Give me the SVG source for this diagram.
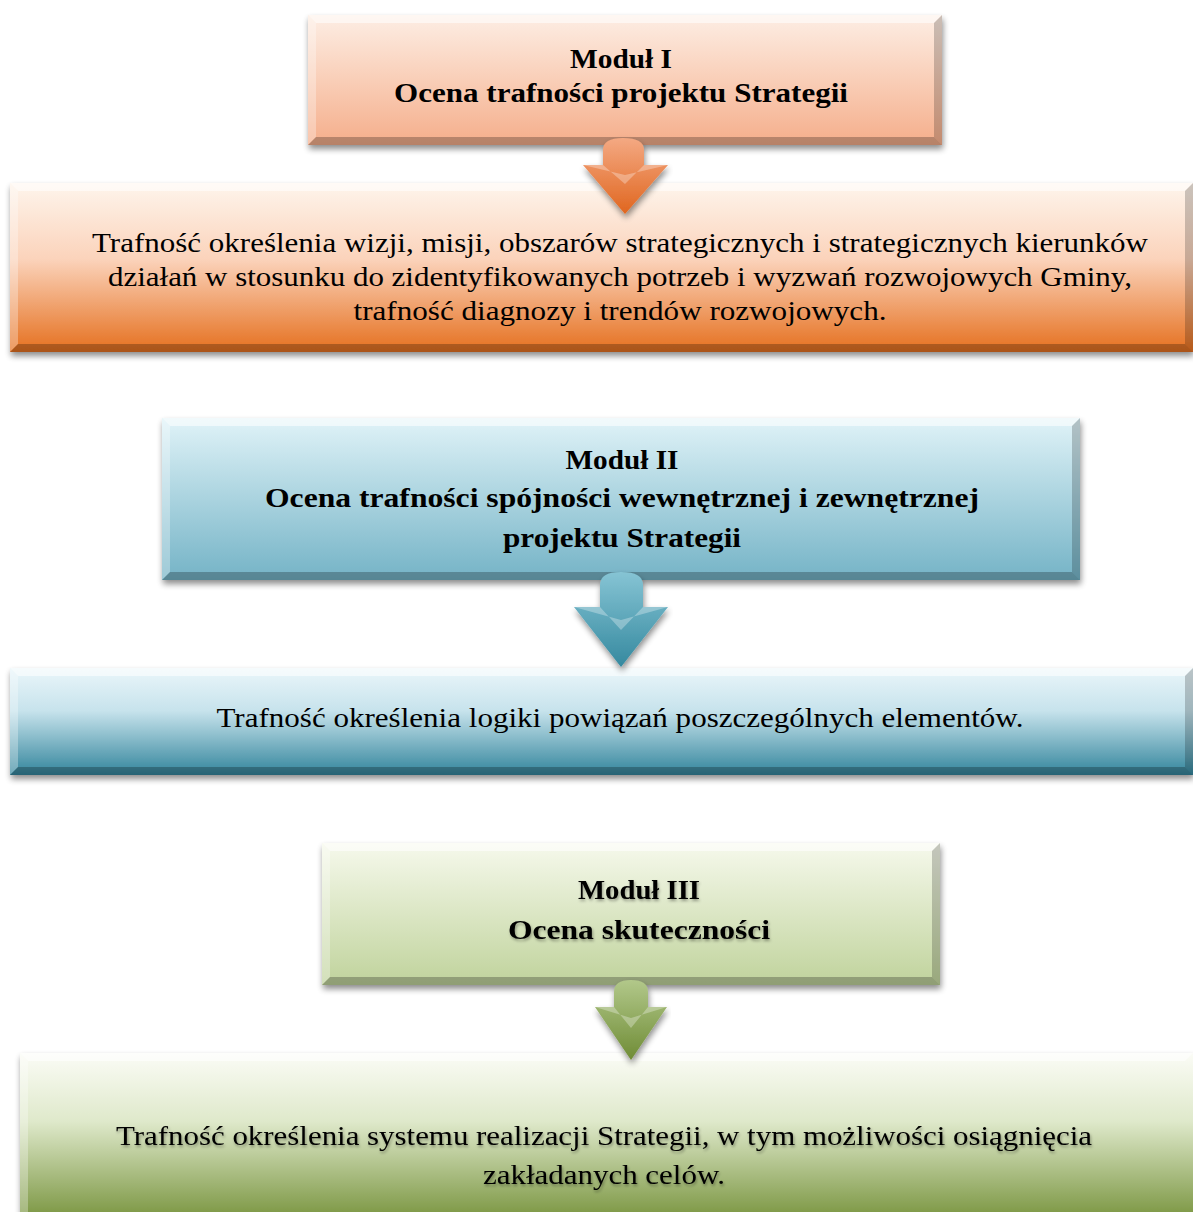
<svg xmlns="http://www.w3.org/2000/svg" width="1193" height="1212" viewBox="0 0 1193 1212">
<style>
.t{font-family:"Liberation Serif","DejaVu Serif",serif;font-size:28px;fill:#000;text-anchor:middle}
.b{font-weight:bold}
.bevT{fill:#fff;opacity:0.55}
.bevL{fill:#fff;opacity:0.3}
.bevR{fill:#000;opacity:0.2}
.bevB{fill:#000;opacity:0.25}
</style>
<defs>
<filter id="sh" x="-5%" y="-10%" width="110%" height="130%">
<feGaussianBlur in="SourceAlpha" stdDeviation="3"/>
<feOffset dx="1" dy="4" result="o"/>
<feComponentTransfer><feFuncA type="linear" slope="0.45"/></feComponentTransfer>
<feMerge><feMergeNode/><feMergeNode in="SourceGraphic"/></feMerge>
</filter>
<filter id="tsh" x="-5%" y="-20%" width="110%" height="150%">
<feGaussianBlur in="SourceAlpha" stdDeviation="1.5"/>
<feOffset dx="1" dy="2"/>
<feComponentTransfer><feFuncA type="linear" slope="0.35"/></feComponentTransfer>
<feMerge><feMergeNode/><feMergeNode in="SourceGraphic"/></feMerge>
</filter>
<linearGradient id="g1" x1="0" y1="0" x2="0" y2="1"><stop offset="0" stop-color="#fdeee4"/><stop offset="1" stop-color="#f5ae8b"/></linearGradient>
<linearGradient id="g2" x1="0" y1="0" x2="0" y2="1"><stop offset="0" stop-color="#fef5ec"/><stop offset="0.45" stop-color="#fbd3bb"/><stop offset="1" stop-color="#e5701f"/></linearGradient>
<linearGradient id="g3" x1="0" y1="0" x2="0" y2="1"><stop offset="0" stop-color="#e0f3f8"/><stop offset="1" stop-color="#74b3c6"/></linearGradient>
<linearGradient id="g4" x1="0" y1="0" x2="0" y2="1"><stop offset="0" stop-color="#eaf6fa"/><stop offset="0.4" stop-color="#c7e3ec"/><stop offset="1" stop-color="#33859c"/></linearGradient>
<linearGradient id="g5" x1="0" y1="0" x2="0" y2="1"><stop offset="0" stop-color="#f6f9ec"/><stop offset="1" stop-color="#c0d39c"/></linearGradient>
<linearGradient id="g6" x1="0" y1="0" x2="0" y2="1"><stop offset="0" stop-color="#fbfcf6"/><stop offset="0.4" stop-color="#dfe9cb"/><stop offset="1" stop-color="#76923b"/></linearGradient>
<linearGradient id="a1" x1="0" y1="0" x2="0" y2="1"><stop offset="0" stop-color="#f4a983"/><stop offset="1" stop-color="#e0661f"/></linearGradient>
<linearGradient id="a2" x1="0" y1="0" x2="0" y2="1"><stop offset="0" stop-color="#86c4d4"/><stop offset="1" stop-color="#35899f"/></linearGradient>
<linearGradient id="a3" x1="0" y1="0" x2="0" y2="1"><stop offset="0" stop-color="#b2c88a"/><stop offset="1" stop-color="#6f8c36"/></linearGradient>
</defs>
<rect width="1193" height="1212" fill="#fff"/>

<g id="node1">
<g filter="url(#sh)"><rect x="308" y="15" width="634" height="130" fill="url(#g1)"/></g>
<polygon class="bevT" points="308,15 942,15 934,23 316,23"/>
<polygon class="bevL" points="308,15 316,23 316,137 308,145"/>
<polygon class="bevR" points="942,15 942,145 934,137 934,23"/>
<polygon class="bevB" points="308,145 316,137 934,137 942,145"/>
<text class="t b" x="621" y="68" textLength="102" lengthAdjust="spacingAndGlyphs">Moduł I</text>
<text class="t b" x="621" y="102" textLength="454" lengthAdjust="spacingAndGlyphs">Ocena trafności projektu Strategii</text>
</g>

<g id="node2">
<g filter="url(#sh)"><rect x="10" y="183" width="1183" height="169" fill="url(#g2)"/></g>
<polygon class="bevT" points="10,183 1193,183 1185,191 18,191"/>
<polygon class="bevL" points="10,183 18,191 18,344 10,352"/>
<polygon class="bevR" points="1193,183 1193,352 1185,344 1185,191"/>
<polygon class="bevB" points="10,352 18,344 1185,344 1193,352"/>
<text class="t" x="620" y="252" textLength="1056" lengthAdjust="spacingAndGlyphs">Trafność określenia wizji, misji, obszarów strategicznych i strategicznych kierunków</text>
<text class="t" x="620" y="286" textLength="1024" lengthAdjust="spacingAndGlyphs">działań w stosunku do zidentyfikowanych potrzeb i wyzwań rozwojowych Gminy,</text>
<text class="t" x="620" y="320" textLength="533" lengthAdjust="spacingAndGlyphs">trafność diagnozy i trendów rozwojowych.</text>
</g>

<g id="node3">
<g filter="url(#sh)"><rect x="162" y="418" width="918" height="162" fill="url(#g3)"/></g>
<polygon class="bevT" points="162,418 1080,418 1072,426 170,426"/>
<polygon class="bevL" points="162,418 170,426 170,572 162,580"/>
<polygon class="bevR" points="1080,418 1080,580 1072,572 1072,426"/>
<polygon class="bevB" points="162,580 170,572 1072,572 1080,580"/>
<text class="t b" x="622" y="469" textLength="113" lengthAdjust="spacingAndGlyphs">Moduł II</text>
<text class="t b" x="622" y="507" textLength="714" lengthAdjust="spacingAndGlyphs">Ocena trafności spójności wewnętrznej i zewnętrznej</text>
<text class="t b" x="622" y="547" textLength="238" lengthAdjust="spacingAndGlyphs">projektu Strategii</text>
</g>

<g id="node4">
<g filter="url(#sh)"><rect x="10" y="668" width="1183" height="107" fill="url(#g4)"/></g>
<polygon class="bevT" points="10,668 1193,668 1185,676 18,676"/>
<polygon class="bevL" points="10,668 18,676 18,767 10,775"/>
<polygon class="bevR" points="1193,668 1193,775 1185,767 1185,676"/>
<polygon class="bevB" points="10,775 18,767 1185,767 1193,775"/>
<text class="t" x="620" y="727" textLength="807" lengthAdjust="spacingAndGlyphs">Trafność określenia logiki powiązań poszczególnych elementów.</text>
</g>

<g id="node5">
<g filter="url(#sh)"><rect x="322" y="843" width="618" height="142" fill="url(#g5)"/></g>
<polygon class="bevT" points="322,843 940,843 932,851 330,851"/>
<polygon class="bevL" points="322,843 330,851 330,977 322,985"/>
<polygon class="bevR" points="940,843 940,985 932,977 932,851"/>
<polygon class="bevB" points="322,985 330,977 932,977 940,985"/>
<g filter="url(#tsh)">
<text class="t b" x="639" y="899" textLength="122" lengthAdjust="spacingAndGlyphs">Moduł III</text>
<text class="t b" x="639" y="939" textLength="262" lengthAdjust="spacingAndGlyphs">Ocena skuteczności</text>
</g>
</g>

<g id="node6">
<g filter="url(#sh)"><rect x="20" y="1053" width="1173" height="170" fill="url(#g6)"/></g>
<polygon class="bevT" points="20,1053 1193,1053 1185,1061 28,1061"/>
<polygon class="bevL" points="20,1053 28,1061 28,1212 20,1212"/>
<g filter="url(#tsh)">
<text class="t" x="604" y="1145" textLength="976" lengthAdjust="spacingAndGlyphs">Trafność określenia systemu realizacji Strategii, w tym możliwości osiągnięcia</text>
<text class="t" x="604" y="1184" textLength="242" lengthAdjust="spacingAndGlyphs">zakładanych celów.</text>
</g>
</g>

<g id="connectors">
<g id="arrow1" filter="url(#sh)">
<path d="M603,150 Q603,138 623,138 Q644,138 644,150 L644,165 L668,165 L625,214 L583,165 L603,165 Z" fill="url(#a1)"/>
<path d="M583,165 L603,165 L625,184 L644,165 L668,165 L625,175 Z" fill="#fff" opacity="0.3"/>
</g>
<g id="arrow2" filter="url(#sh)">
<path d="M600,585 Q600,572 621,572 Q643,572 643,585 L643,607 L668,607 L621,667 L574,607 L600,607 Z" fill="url(#a2)"/>
<path d="M574,607 L600,607 L621,630 L643,607 L668,607 L621,620 Z" fill="#fff" opacity="0.3"/>
</g>
<g id="arrow3" filter="url(#sh)">
<path d="M614,992 Q614,980 631,980 Q648,980 648,992 L648,1007 L667,1007 L631,1060 L595,1007 L614,1007 Z" fill="url(#a3)"/>
<path d="M595,1007 L614,1007 L631,1028 L648,1007 L667,1007 L631,1018 Z" fill="#fff" opacity="0.3"/>
</g>
</g>
</svg>
